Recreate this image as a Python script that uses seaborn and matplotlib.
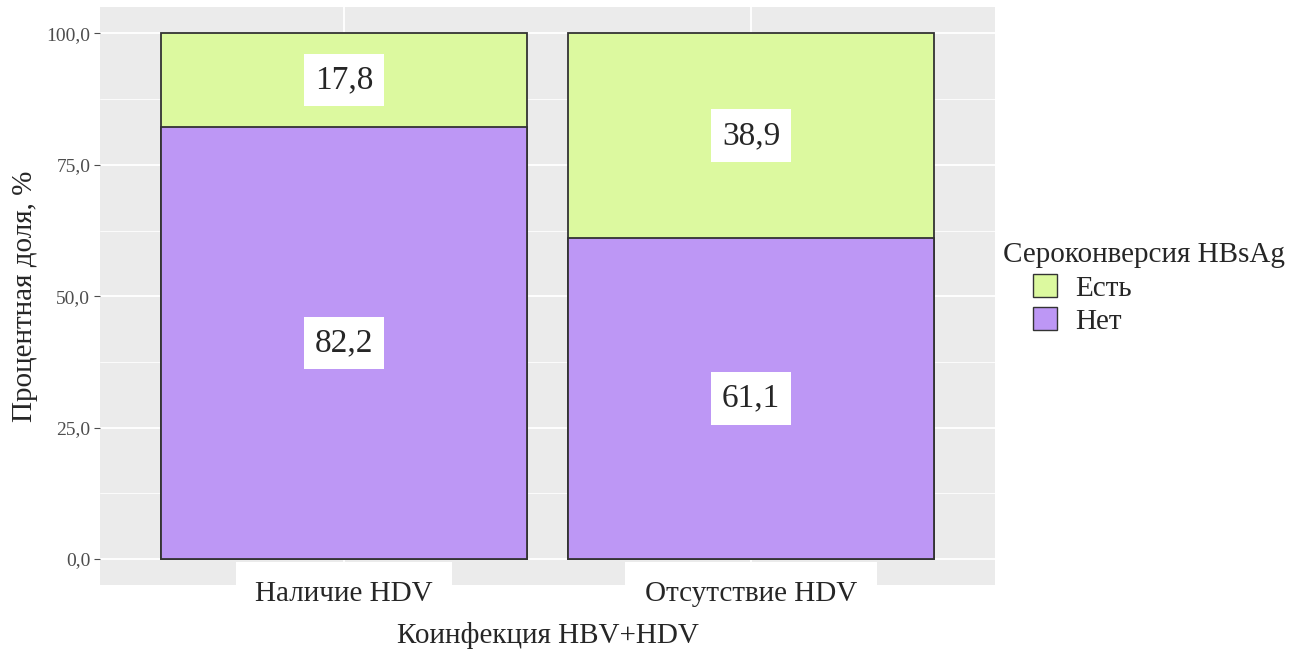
import matplotlib
matplotlib.use('Agg')
import matplotlib.pyplot as plt
import seaborn as sns
from matplotlib.patches import Patch
from matplotlib.ticker import MultipleLocator

sns.set_style('white')
plt.rcParams['font.family'] = ['Liberation Serif', 'DejaVu Serif']

groups = ['Наличие HDV', 'Отсутствие HDV']
est = [17.8, 38.9]   # Есть
net = [82.2, 61.1]   # Нет
yticks = [0, 25, 50, 75, 100]

green = '#dcf99f'
purple = '#bd97f5'
edge = '#333333'

W, H = 1299, 651
fig = plt.figure(figsize=(W / 100, H / 100), dpi=100)
ax = fig.add_axes([0.077, 0.101, 0.689, 0.888])
ax.set_facecolor('#ebebeb')

totals = [a + b for a, b in zip(est, net)]
sns.barplot(x=groups, y=totals, color=green, width=0.9, edgecolor=edge,
            linewidth=1.3, saturation=1, ax=ax, zorder=3)
sns.barplot(x=groups, y=net, color=purple, width=0.9, edgecolor=edge,
            linewidth=1.3, saturation=1, ax=ax, zorder=3)

# value labels in white boxes
box = dict(facecolor='white', edgecolor='none', pad=8)
for i in range(len(groups)):
    for lo, v in [(0, net[i]), (net[i], est[i])]:
        ax.text(i, lo + v / 2, f'{v:.1f}'.replace('.', ','), ha='center',
                va='center', fontsize=24, bbox=box, zorder=5)

ax.set_xlim(-0.6, 1.6)
ax.set_ylim(-5, 105)
ax.set_yticks(yticks)
ax.set_yticklabels([f'{t:.1f}'.replace('.', ',') for t in yticks],
                   fontsize=14, color='#4d4d4d')
ax.set_xticks(range(len(groups)))
ax.set_xticklabels(groups, fontsize=21,
                   bbox=dict(facecolor='white', edgecolor='none', pad=14))
ax.yaxis.set_minor_locator(MultipleLocator(12.5))
ax.grid(True, which='major', color='white', linewidth=1.3, zorder=0)
ax.grid(True, which='minor', axis='y', color='white', linewidth=0.6, zorder=0)
ax.set_axisbelow(True)
ax.tick_params(axis='y', which='major', length=4, color='#4d4d4d', left=True, pad=3)
ax.tick_params(axis='y', which='minor', length=0)
ax.tick_params(axis='x', length=0, pad=-3)
for s in ax.spines.values():
    s.set_visible(False)

ax.set_xlabel('Коинфекция HBV+HDV', fontsize=21, labelpad=11)
ax.set_ylabel('Процентная доля, %', fontsize=21, labelpad=6)

# legend: title left, keys indented (ggplot style)
fig.text(1003 / W, 1 - 255 / H, 'Сероконверсия HBsAg', fontsize=21,
         ha='left', va='center')
handles = [Patch(facecolor=green, edgecolor=edge, label='Есть'),
           Patch(facecolor=purple, edgecolor=edge, label='Нет')]
fig.legend(handles=handles, loc='upper left',
           bbox_to_anchor=(1033 / W, 1 - 274 / H), fontsize=21,
           frameon=False, handlelength=0.83, handleheight=0.83,
           handletextpad=0.62, labelspacing=0.2, borderpad=0, borderaxespad=0)

fig.savefig('out.png', dpi=100, facecolor='white')
